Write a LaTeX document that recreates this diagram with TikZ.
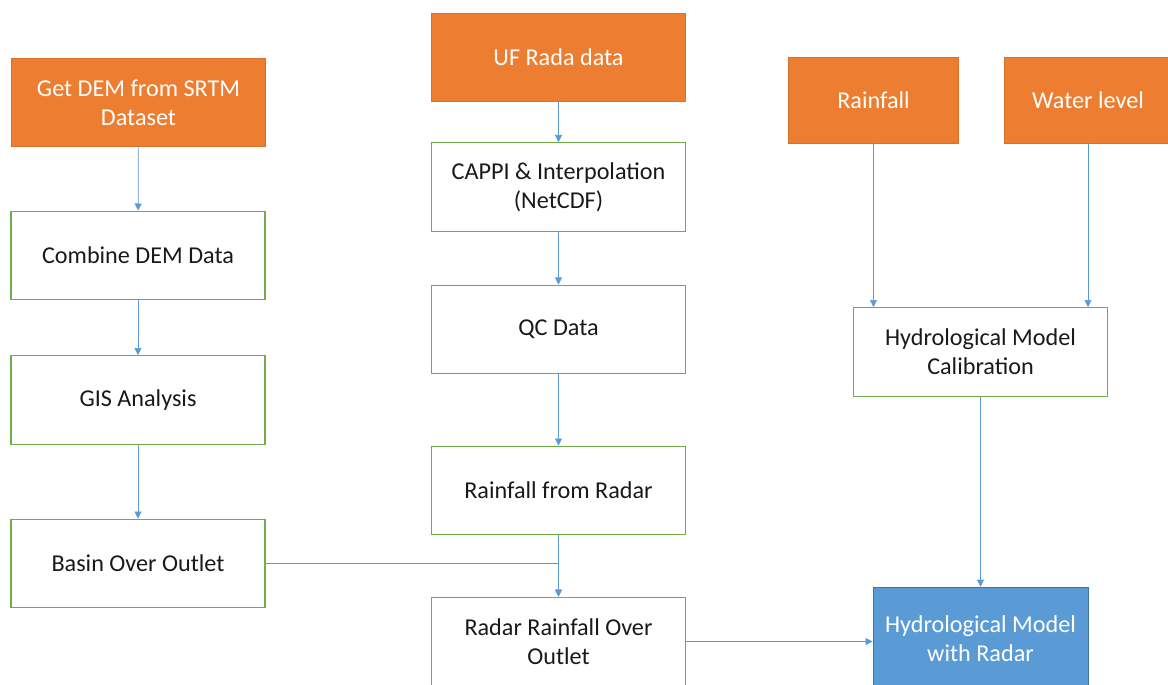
\documentclass[tikz,border=0pt]{standalone}
\usepackage{fontspec}
\setmainfont{Carlito}
\usetikzlibrary{positioning,arrows.meta}
\definecolor{ofill}{HTML}{ED7D31}
\definecolor{oline}{HTML}{D9712B}
\definecolor{gline}{HTML}{70AD47}
\definecolor{bfill}{HTML}{5B9BD5}
\definecolor{bline}{HTML}{41719C}
\definecolor{aline}{HTML}{5B9BD5}

\begin{document}
\begin{tikzpicture}[x=0.025cm, y=-0.025cm,
    every node/.style = {font=\fontsize{17.2}{20.6}\selectfont, align=center, inner sep=0pt},
    src/.style = {rectangle, fill=ofill, draw=oline, text=white, minimum width=6.35cm, minimum height=2.2cm},
    proc/.style = {rectangle, draw=gline, line width=0.8pt, text=black!90, minimum width=6.35cm, minimum height=2.22cm},
    res/.style = {rectangle, fill=bfill, draw=bline, text=white, minimum width=5.38cm, minimum height=2.6cm},
    flow/.style = {draw=aline, line width=0.5pt, -{Triangle[length=5pt,width=5pt]}}]
    \useasboundingbox (0,0) rectangle (1168,684);
    % left column
    \node[src] (dem) at (138.5,102.5) {Get DEM from SRTM\\Dataset};
    \node[proc] (comb) at (138,255.5) {Combine DEM Data};
    \node[proc] (gis) at (138,400) {GIS Analysis};
    \node[proc] (basin) at (138,563.5) {Basin Over Outlet};
    % middle column
    \node[src] (uf) at (558.5,57) {UF Rada data};
    \node[proc] (cappi) at (558.5,187) {CAPPI \& Interpolation\\(NetCDF)};
    \node[proc] (qc) at (558.5,329.5) {QC Data};
    \node[proc] (rfr) at (558.5,490.5) {Rainfall from Radar};
    \node[proc] (rro) at (558.5,641.5) {Radar Rainfall Over\\Outlet};
    % right column
    \node[src, minimum width=4.25cm, minimum height=2.15cm] (rain) at (873.5,100) {Rainfall};
    \node[src, minimum width=4.2cm, minimum height=2.15cm] (wl) at (1088,100) {Water level};
    \node[proc] (hmc) at (980.5,352) {Hydrological Model\\Calibration};
    \node[res] (hmr) at (980.5,639) {Hydrological Model\\with Radar};
    % connectors
    \path[flow] (dem) -- (comb);
    \path[flow] (comb) -- (gis);
    \path[flow] (gis) -- (basin);
    \path[flow] (uf) -- (cappi);
    \path[flow] (cappi) -- (qc);
    \path[flow] (qc) -- (rfr);
    \path[flow] (rfr) -- (rro);
    \path[flow] (basin.east) -| (rro.north);
    \path[flow] (rain.south) -- (rain.south |- hmc.north);
    \path[flow] (wl.south) -- (wl.south |- hmc.north);
    \path[flow] (hmc) -- (hmr);
    \path[flow] (rro.east) -- (rro.east -| hmr.west);
\end{tikzpicture}
\end{document}
